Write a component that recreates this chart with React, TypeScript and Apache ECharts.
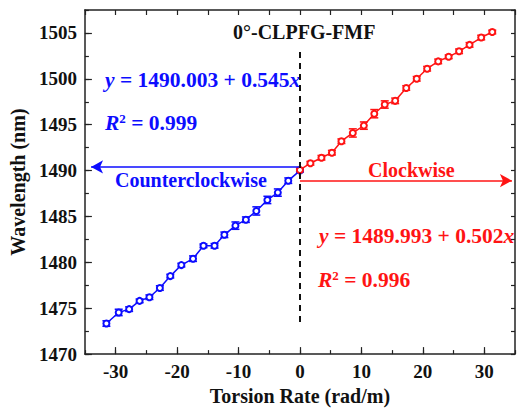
import React, { useEffect, useRef } from "react";
import * as echarts from "echarts";

const ccwX = [-31.5, -29.5, -27.8, -26.1, -24.5, -22.8, -21.1, -19.3, -17.4, -15.7, -13.9, -12.3, -10.5, -8.8, -7.1, -5.3, -3.6, -1.9, 0];
const ccwY = [1473.33, 1474.54, 1474.9, 1475.8, 1476.2, 1477.2, 1478.5, 1479.7, 1480.4, 1481.8, 1481.8, 1483.0, 1484.0, 1484.65, 1485.6, 1486.8, 1487.6, 1488.9, 1490.0];
const ccwErr = [0.3, 0.35, 0.25, 0.2, 0.25, 0.25, 0.2, 0.2, 0.3, 0.2, 0.25, 0.3, 0.4, 0.3, 0.45, 0.4, 0.4, 0.3, 0.15];

const cwX = [0, 1.7, 3.5, 5.2, 6.75, 8.6, 10.4, 12.1, 13.8, 15.5, 17.3, 19.0, 20.7, 22.5, 24.2, 25.9, 27.6, 29.5, 31.3];
const cwY = [1490.07, 1490.8, 1491.4, 1491.95, 1493.2, 1494.1, 1494.9, 1496.2, 1497.2, 1497.6, 1499.0, 1500.0, 1501.1, 1501.9, 1502.4, 1503.0, 1503.7, 1504.5, 1505.1];
const cwErr = [0.2, 0.2, 0.25, 0.25, 0.25, 0.45, 0.4, 0.45, 0.4, 0.3, 0.25, 0.25, 0.25, 0.25, 0.2, 0.25, 0.25, 0.25, 0.2];

const xMajorTicks = [-30, -20, -10, 0, 10, 20, 30];
const yMajorTicks = [1470, 1475, 1480, 1485, 1490, 1495, 1500, 1505];

const blueArrowY = 1490.4;
const redArrowY = 1488.9;
const dashFrom = 1473.5;
const dashTo = 1503.3;

const BLUE = "#0d0dff";
const RED = "#ff1414";
const FAM = "Liberation Serif";

function errorSeries(xs: number[], ys: number[], es: number[], color: string) {
  return {
    type: "custom",
    data: xs.map((x, i) => [x, ys[i], es[i]]),
    z: 3,
    renderItem: (params: any, api: any) => {
      const x = api.value(0);
      const y = api.value(1);
      const e = api.value(2);
      const top = api.coord([x, y + e]);
      const bot = api.coord([x, y - e]);
      const w = 4;
      const st = { stroke: color, lineWidth: 1.5 };
      return {
        type: "group",
        children: [
          { type: "line", shape: { x1: top[0], y1: top[1], x2: bot[0], y2: bot[1] }, style: st },
          { type: "line", shape: { x1: top[0] - w, y1: top[1], x2: top[0] + w, y2: top[1] }, style: st },
          { type: "line", shape: { x1: bot[0] - w, y1: bot[1], x2: bot[0] + w, y2: bot[1] }, style: st },
        ],
      };
    },
  };
}

function richText(left: number, top: number, text: string, color: string) {
  const fs = 21.5;
  return {
    type: "text",
    left,
    top,
    style: {
      text,
      fill: color,
      fontFamily: FAM,
      fontWeight: "bold",
      fontSize: fs,
      rich: {
        i: { fontFamily: FAM, fontWeight: "bold", fontStyle: "italic", fontSize: fs, fill: color },
        n: { fontFamily: FAM, fontWeight: "bold", fontSize: fs, fill: color },
        s: { fontFamily: FAM, fontWeight: "bold", fontSize: 13, fill: color, verticalAlign: "top" },
      },
    },
  };
}

export default function App() {
  const ref = useRef<HTMLDivElement>(null);
  useEffect(() => {
    if (!ref.current) return;
    const chart = echarts.init(ref.current, undefined, { renderer: "svg" });
    const axisLine = { show: true, onZero: false, lineStyle: { color: "#222", width: 1.5 } };
    const tick = { show: true, inside: true, length: 4, lineStyle: { color: "#222", width: 1.2 } };
    const label = { fontFamily: FAM, fontWeight: "bold", fontSize: 19, color: "#111" };
    const nameStyle = { fontFamily: FAM, fontWeight: "bold", fontSize: 20, color: "#111" };
    chart.setOption({
      animation: false,
      backgroundColor: "#fff",
      textStyle: { fontFamily: FAM },
      grid: { left: 81, top: 10, right: -2, bottom: 49 },
      xAxis: [
        {
          type: "value", min: -35, max: 35, interval: 5, position: "bottom",
          axisLine, splitLine: { show: false }, axisTick: tick,
          axisLabel: { ...label, margin: 8, formatter: (v: number) => (v % 10 === 0 ? String(v) : "") },
          name: "Torsion Rate (rad/m)", nameLocation: "middle", nameGap: 26, nameTextStyle: nameStyle,
        },
        {
          type: "value", min: -35, max: 35, interval: 5, position: "top",
          axisLine, splitLine: { show: false }, axisTick: { ...tick, length: 5 }, axisLabel: { show: false },
        },
        {
          type: "value", min: -35, max: 35, interval: 5, position: "bottom",
          axisLine: { show: false, onZero: false }, splitLine: { show: false },
          axisTick: { ...tick, length: 7, customValues: xMajorTicks }, axisLabel: { show: false },
        },
      ],
      yAxis: [
        {
          type: "value", min: 1470, max: 1507.5, interval: 2.5, position: "left",
          axisLine, splitLine: { show: false }, axisTick: tick,
          axisLabel: { ...label, margin: 8, formatter: (v: number) => (v % 5 === 0 ? String(v) : "") },
          name: "Wavelength (nm)", nameLocation: "middle", nameGap: 52, nameTextStyle: nameStyle,
        },
        {
          type: "value", min: 1470, max: 1507.5, interval: 2.5, position: "right",
          axisLine, splitLine: { show: false }, axisTick: tick, axisLabel: { show: false },
        },
        {
          type: "value", min: 1470, max: 1507.5, interval: 2.5, position: "left",
          axisLine: { show: false, onZero: false }, splitLine: { show: false },
          axisTick: { ...tick, length: 7, customValues: yMajorTicks }, axisLabel: { show: false },
        },
      ],
      series: [
        {
          type: "line",
          data: ccwX.map((x, i) => [x, ccwY[i]]),
          symbol: "emptyCircle", symbolSize: 6,
          lineStyle: { color: BLUE, width: 1.5 },
          itemStyle: { color: BLUE, borderColor: BLUE, borderWidth: 1.5 },
          z: 4,
          markLine: {
            silent: true,
            symbol: ["none", "arrow"],
            symbolSize: [10, 12],
            label: { show: false },
            lineStyle: { color: BLUE, width: 1.5, type: "solid" },
            data: [[{ coord: [0, blueArrowY] }, { coord: [-34, blueArrowY] }]],
          },
        },
        {
          type: "line",
          data: cwX.map((x, i) => [x, cwY[i]]),
          symbol: "emptyCircle", symbolSize: 6,
          lineStyle: { color: RED, width: 1.5 },
          itemStyle: { color: RED, borderColor: RED, borderWidth: 1.5 },
          z: 4,
          markLine: {
            silent: true,
            symbol: ["none", "arrow"],
            symbolSize: [10, 12],
            label: { show: false },
            lineStyle: { color: RED, width: 1.5, type: "solid" },
            data: [[{ coord: [0, redArrowY] }, { coord: [34.5, redArrowY] }]],
          },
        },
        {
          type: "line",
          data: [],
          markLine: {
            silent: true,
            symbol: ["none", "none"],
            label: { show: false },
            lineStyle: { color: "#111", width: 2, type: [6, 5] },
            data: [[{ coord: [0, dashFrom] }, { coord: [0, dashTo] }]],
          },
        },
        errorSeries(ccwX, ccwY, ccwErr, BLUE),
        errorSeries(cwX, cwY, cwErr, RED),
      ],
      graphic: [
        {
          type: "text", left: 233, top: 22,
          style: { text: "0°-CLPFG-FMF", fill: "#111", fontFamily: FAM, fontWeight: "bold", fontSize: 20 },
        },
        richText(105, 69, "{i|y}{n| = 1490.003 + 0.545}{i|x}", BLUE),
        richText(105, 112, "{i|R}{s|2}{n| = 0.999}", BLUE),
        {
          type: "text", left: 115, top: 170,
          style: { text: "Counterclockwise", fill: BLUE, fontFamily: FAM, fontWeight: "bold", fontSize: 20 },
        },
        {
          type: "text", left: 368, top: 160,
          style: { text: "Clockwise", fill: RED, fontFamily: FAM, fontWeight: "bold", fontSize: 20 },
        },
        richText(319, 225, "{i|y}{n| = 1489.993 + 0.502}{i|x}", RED),
        richText(318, 269, "{i|R}{s|2}{n| = 0.996}", RED),
      ],
    });
    return () => chart.dispose();
  }, []);
  return (
    <div
      ref={ref}
      style={{ position: "fixed", left: 0, top: 0, width: 518, height: 411, background: "#fff" }}
    />
  );
}
